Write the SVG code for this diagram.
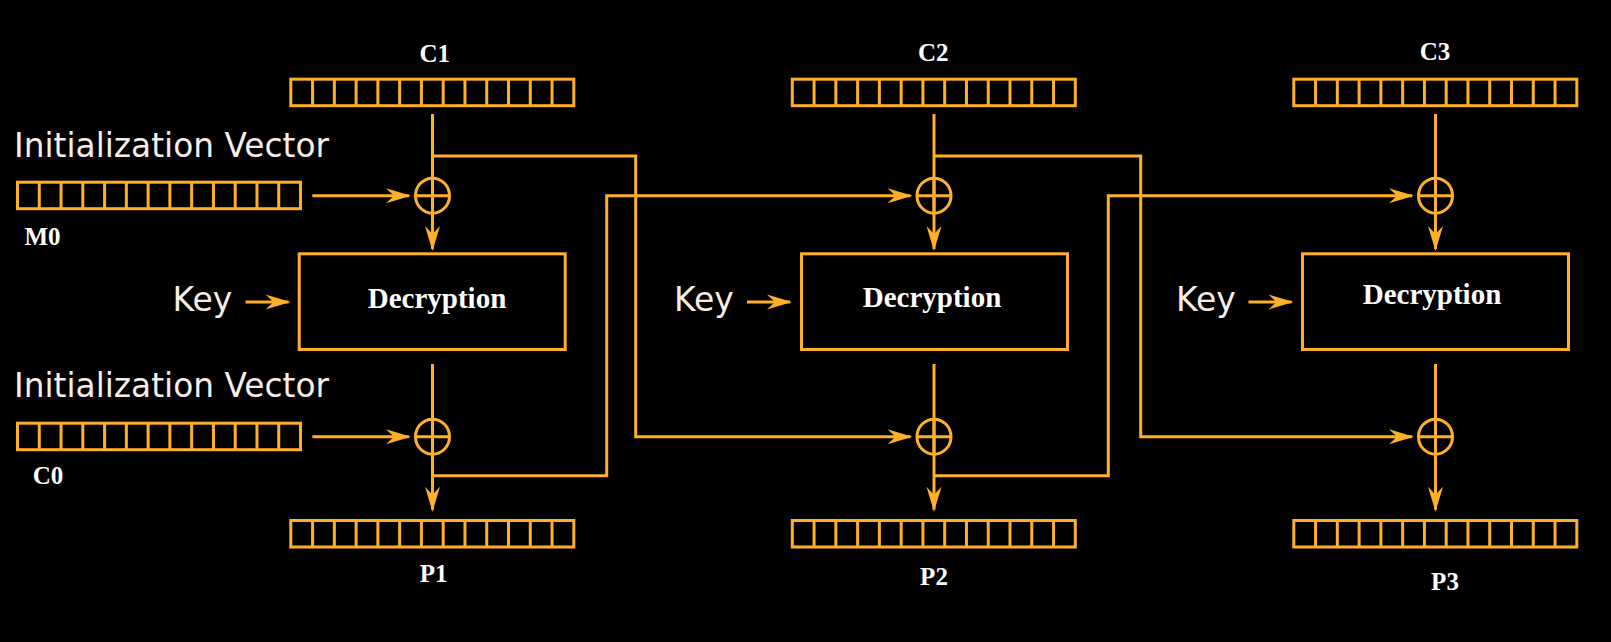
<svg xmlns="http://www.w3.org/2000/svg" xmlns:xlink="http://www.w3.org/1999/xlink" width="1611" height="642" viewBox="0 0 1611 642">
<style>
.o{fill:none;stroke:#ffb028;stroke-width:3}
.c{fill:none;stroke:#ffb028;stroke-width:3;stroke-linejoin:miter}
.lbl{font-family:"Liberation Serif","Times New Roman",serif;font-weight:bold;font-size:25px;fill:#ffffff;text-anchor:middle}
.dec{font-family:"Liberation Serif","Times New Roman",serif;font-weight:bold;font-size:29px;fill:#ffffff;text-anchor:middle}
.sans{font-family:"DejaVu Sans","Verdana",sans-serif;fill:#f7ede6}
.iv{font-size:32.8px}
.key{font-size:33px}
</style>
<defs>
<marker id="ah" viewBox="-24 -8 27 16" markerWidth="27" markerHeight="16" refX="0" refY="0" orient="auto" markerUnits="userSpaceOnUse">
<path d="M2,0 L-23,-7.5 L-15,0 L-23,7.5 Z" fill="#ffb028"/>
</marker>
<g id="reg" class="o">
<rect x="0" y="0" width="283" height="26.5"/>
<path d="M21.77,0v26.5M43.54,0v26.5M65.31,0v26.5M87.08,0v26.5M108.85,0v26.5M130.62,0v26.5M152.39,0v26.5M174.16,0v26.5M195.93,0v26.5M217.7,0v26.5M239.47,0v26.5M261.24,0v26.5"/>
</g>
<g id="xor" class="o">
<ellipse cx="0" cy="0" rx="17" ry="17.5"/>
<path d="M-17,0H17M0,-17.5V17.5"/>
</g>
</defs>
<rect x="0" y="0" width="1611" height="642" fill="#000000"/>

<g id="connectors" class="c">
<path d="M432.5,114V249" marker-end="url(#ah)"/>
<path d="M934,114V249" marker-end="url(#ah)"/>
<path d="M1435.5,114V249" marker-end="url(#ah)"/>
<path d="M432.5,364V509.7" marker-end="url(#ah)"/>
<path d="M934,364V509.7" marker-end="url(#ah)"/>
<path d="M1435.5,364V509.7" marker-end="url(#ah)"/>
<path d="M245.5,302H288.5" marker-end="url(#ah)"/>
<path d="M747,302H790" marker-end="url(#ah)"/>
<path d="M1248.5,302H1291.5" marker-end="url(#ah)"/>
<path d="M312.3,195.7H409" marker-end="url(#ah)"/>
<path d="M312.3,436.7H409" marker-end="url(#ah)"/>
<path d="M432.5,156H635.7V436.7H910.5" marker-end="url(#ah)"/>
<path d="M432.5,475.7H606.7V195.7H910.5" marker-end="url(#ah)"/>
<path d="M934,156H1140.7V436.7H1412" marker-end="url(#ah)"/>
<path d="M934,475.7H1108.3V195.7H1412" marker-end="url(#ah)"/>
</g>

<g id="c1"><use xlink:href="#reg" x="290.8" y="79.2"/><text class="lbl" x="434.7" y="61.7">C1</text></g>
<g id="c2"><use xlink:href="#reg" x="792.3" y="79.2"/><text class="lbl" x="933.3" y="61">C2</text></g>
<g id="c3"><use xlink:href="#reg" x="1293.8" y="79.2"/><text class="lbl" x="1435" y="60">C3</text></g>

<g id="iv1"><text class="sans iv" x="14" y="156.7">Initialization Vector</text><use xlink:href="#reg" x="17.5" y="182.2"/><text class="lbl" x="42.5" y="245">M0</text></g>
<g id="iv2"><text class="sans iv" x="14" y="397.3">Initialization Vector</text><use xlink:href="#reg" x="17.5" y="423.2"/><text class="lbl" x="48" y="484">C0</text></g>

<g id="xor1a"><use xlink:href="#xor" x="432.5" y="195.7"/></g>
<g id="xor2a"><use xlink:href="#xor" x="934" y="195.7"/></g>
<g id="xor3a"><use xlink:href="#xor" x="1435.5" y="195.7"/></g>
<g id="xor1b"><use xlink:href="#xor" x="432.5" y="436.7"/></g>
<g id="xor2b"><use xlink:href="#xor" x="934" y="436.7"/></g>
<g id="xor3b"><use xlink:href="#xor" x="1435.5" y="436.7"/></g>

<g id="dec1"><rect class="o" x="299.2" y="253.8" width="266" height="95.7"/><text class="dec" x="437" y="308.3">Decryption</text></g>
<g id="dec2"><rect class="o" x="801.5" y="253.8" width="266" height="95.7"/><text class="dec" x="932" y="306.7">Decryption</text></g>
<g id="dec3"><rect class="o" x="1302.5" y="253.8" width="266" height="95.7"/><text class="dec" x="1432" y="304">Decryption</text></g>

<g id="key1"><text class="sans key" x="172.5" y="311">Key</text></g>
<g id="key2"><text class="sans key" x="674" y="311">Key</text></g>
<g id="key3"><text class="sans key" x="1176" y="311">Key</text></g>

<g id="p1"><use xlink:href="#reg" x="290.8" y="520.5"/><text class="lbl" x="433.7" y="582.3">P1</text></g>
<g id="p2"><use xlink:href="#reg" x="792.3" y="520.5"/><text class="lbl" x="934" y="585">P2</text></g>
<g id="p3"><use xlink:href="#reg" x="1293.8" y="520.5"/><text class="lbl" x="1445" y="590">P3</text></g>
</svg>
